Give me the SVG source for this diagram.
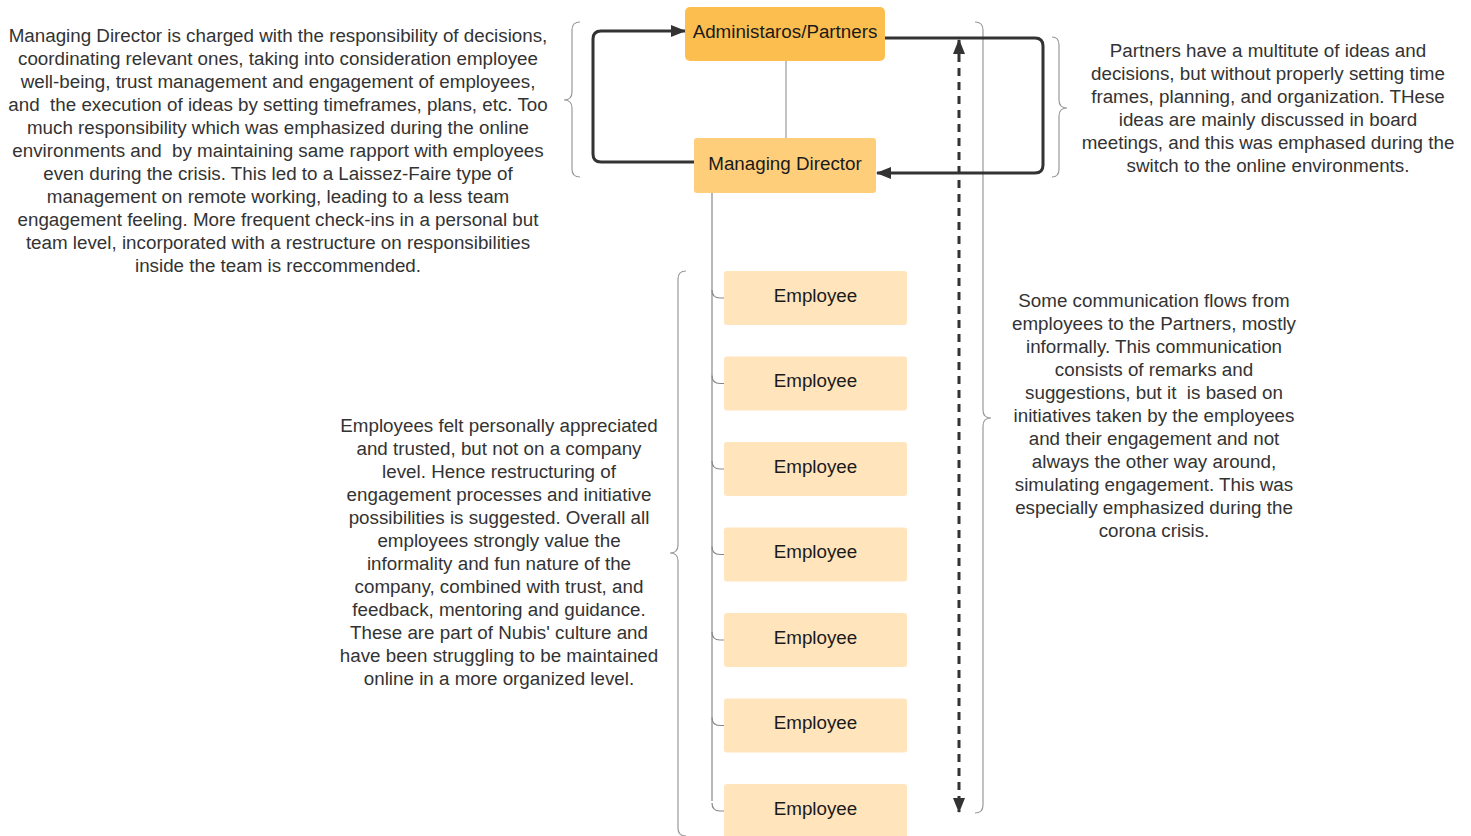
<svg xmlns="http://www.w3.org/2000/svg" width="1471" height="836" viewBox="0 0 1471 836">
<style>
.t{font-family:"Liberation Sans",Arial,sans-serif;font-size:18.8px;fill:#333;text-anchor:middle}
.n{font-family:"Liberation Sans",Arial,sans-serif;font-size:18.8px;fill:#1a1a1a;text-anchor:middle}
.br{fill:none;stroke:#999;stroke-width:1.2}
.tree{fill:none;stroke:#888;stroke-width:1.2}
.ar{fill:none;stroke:#333;stroke-width:3}
.emp{fill:#FFE4BC}
</style>
<defs>
<marker id="ah" markerUnits="userSpaceOnUse" markerWidth="16" markerHeight="14" refX="14" refY="7" orient="auto-start-reverse" viewBox="0 0 16 14">
<path d="M0,1 L15,7 L0,13 Z" fill="#333"/>
</marker>
</defs>
<rect width="1471" height="836" fill="#fff"/>
<g id="braces">
<path class="br" d="M580,22 Q572,22 572,30 V92 Q572,100 564,100 Q572,100 572,108 V169 Q572,177 580,177"/>
<path class="br" d="M1052,37 Q1059,37 1059,45 V100 Q1059,108 1067,108 Q1059,108 1059,116 V169 Q1059,177 1052,177"/>
<path class="br" d="M975,22 Q983,22 983,30 V410 Q983,418 991,418 Q983,418 983,426 V805 Q983,813 975,813"/>
<path class="br" d="M686,271 Q678,271 678,279 V545 Q678,553 670,553 Q678,553 678,561 V828 Q678,836 686,836"/>
</g>
<g id="connectors">
<line x1="786" y1="61" x2="786" y2="138" stroke="#999" stroke-width="1.2"/>
<path class="tree" d="M712,193 V801"/>
<path class="tree" d="M712,290 Q712,298 720,298 H724"/>
<path class="tree" d="M712,375.5 Q712,383.5 720,383.5 H724"/>
<path class="tree" d="M712,461 Q712,469 720,469 H724"/>
<path class="tree" d="M712,546.5 Q712,554.5 720,554.5 H724"/>
<path class="tree" d="M712,632 Q712,640 720,640 H724"/>
<path class="tree" d="M712,717.5 Q712,725.5 720,725.5 H724"/>
<path class="tree" d="M712,803 Q712,811 720,811 H724"/>
<path class="ar" d="M694,162 H601 Q593,162 593,154 V39 Q593,31 601,31 H685" marker-end="url(#ah)"/>
<path class="ar" d="M885,38 H1035 Q1043,38 1043,46 V165 Q1043,173 1035,173 H877" marker-end="url(#ah)"/>
<path class="ar" d="M959,40 V812" stroke-dasharray="8 6" marker-start="url(#ah)" marker-end="url(#ah)"/>
</g>
<g id="admin">
<rect x="685" y="7" width="200" height="54" rx="5" fill="#FDBE50"/>
<text class="n" x="785" y="37.5">Administaros/Partners</text>
</g>
<g id="md">
<rect x="694" y="138" width="182" height="55" rx="3" fill="#FFCE7A"/>
<text class="n" x="785" y="169.5">Managing Director</text>
</g>
<g id="emp1"><rect class="emp" x="724" y="271" width="183" height="54" rx="3"/><text class="n" x="815.5" y="301.5">Employee</text></g>
<g id="emp2"><rect class="emp" x="724" y="356.5" width="183" height="54" rx="3"/><text class="n" x="815.5" y="387">Employee</text></g>
<g id="emp3"><rect class="emp" x="724" y="442" width="183" height="54" rx="3"/><text class="n" x="815.5" y="472.5">Employee</text></g>
<g id="emp4"><rect class="emp" x="724" y="527.5" width="183" height="54" rx="3"/><text class="n" x="815.5" y="558">Employee</text></g>
<g id="emp5"><rect class="emp" x="724" y="613" width="183" height="54" rx="3"/><text class="n" x="815.5" y="643.5">Employee</text></g>
<g id="emp6"><rect class="emp" x="724" y="698.5" width="183" height="54" rx="3"/><text class="n" x="815.5" y="729">Employee</text></g>
<g id="emp7"><rect class="emp" x="724" y="784" width="183" height="54" rx="3"/><text class="n" x="815.5" y="814.5">Employee</text></g>
<g id="note-md">
<text class="t" x="278" y="41.5">Managing Director is charged with the responsibility of decisions,</text>
<text class="t" x="278" y="64.5">coordinating relevant ones, taking into consideration employee</text>
<text class="t" x="278" y="87.5">well-being, trust management and engagement of employees,</text>
<text class="t" x="278" y="110.5" xml:space="preserve">and  the execution of ideas by setting timeframes, plans, etc. Too</text>
<text class="t" x="278" y="133.5">much responsibility which was emphasized during the online</text>
<text class="t" x="278" y="156.5" xml:space="preserve">environments and  by maintaining same rapport with employees</text>
<text class="t" x="278" y="179.5">even during the crisis. This led to a Laissez-Faire type of</text>
<text class="t" x="278" y="202.5">management on remote working, leading to a less team</text>
<text class="t" x="278" y="225.5">engagement feeling. More frequent check-ins in a personal but</text>
<text class="t" x="278" y="248.5">team level, incorporated with a restructure on responsibilities</text>
<text class="t" x="278" y="271.5">inside the team is reccommended.</text>
</g>
<g id="note-partners">
<text class="t" x="1268" y="56.5">Partners have a multitute of ideas and</text>
<text class="t" x="1268" y="79.5">decisions, but without properly setting time</text>
<text class="t" x="1268" y="102.5">frames, planning, and organization. THese</text>
<text class="t" x="1268" y="125.5">ideas are mainly discussed in board</text>
<text class="t" x="1268" y="148.5">meetings, and this was emphased during the</text>
<text class="t" x="1268" y="171.5">switch to the online environments.</text>
</g>
<g id="note-comm">
<text class="t" x="1154" y="306.5">Some communication flows from</text>
<text class="t" x="1154" y="329.5">employees to the Partners, mostly</text>
<text class="t" x="1154" y="352.5">informally. This communication</text>
<text class="t" x="1154" y="375.5">consists of remarks and</text>
<text class="t" x="1154" y="398.5" xml:space="preserve">suggestions, but it  is based on</text>
<text class="t" x="1154" y="421.5">initiatives taken by the employees</text>
<text class="t" x="1154" y="444.5">and their engagement and not</text>
<text class="t" x="1154" y="467.5">always the other way around,</text>
<text class="t" x="1154" y="490.5">simulating engagement. This was</text>
<text class="t" x="1154" y="513.5">especially emphasized during the</text>
<text class="t" x="1154" y="536.5">corona crisis.</text>
</g>
<g id="note-emp">
<text class="t" x="499" y="431.5">Employees felt personally appreciated</text>
<text class="t" x="499" y="454.5">and trusted, but not on a company</text>
<text class="t" x="499" y="477.5">level. Hence restructuring of</text>
<text class="t" x="499" y="500.5">engagement processes and initiative</text>
<text class="t" x="499" y="523.5">possibilities is suggested. Overall all</text>
<text class="t" x="499" y="546.5">employees strongly value the</text>
<text class="t" x="499" y="569.5">informality and fun nature of the</text>
<text class="t" x="499" y="592.5">company, combined with trust, and</text>
<text class="t" x="499" y="615.5">feedback, mentoring and guidance.</text>
<text class="t" x="499" y="638.5">These are part of Nubis' culture and</text>
<text class="t" x="499" y="661.5">have been struggling to be maintained</text>
<text class="t" x="499" y="684.5">online in a more organized level.</text>
</g>
</svg>
